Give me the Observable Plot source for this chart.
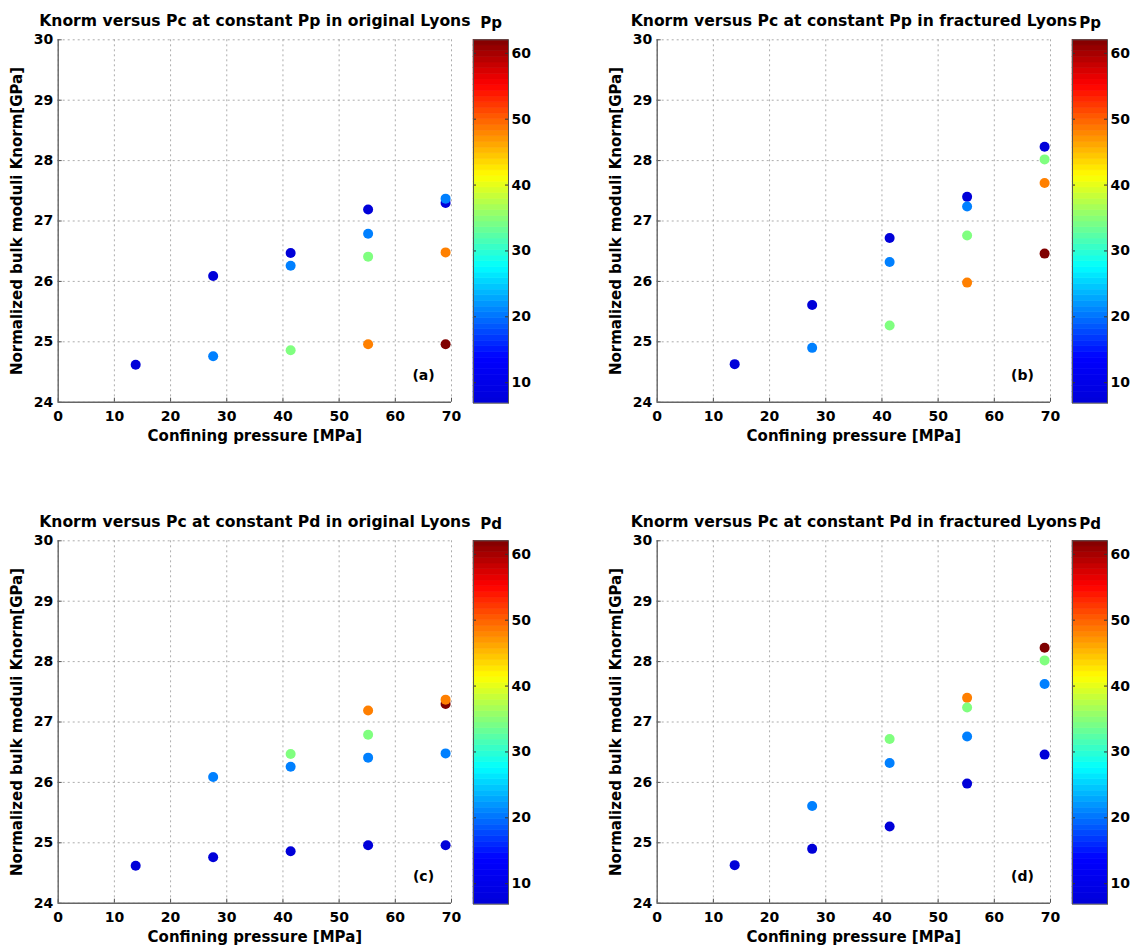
<!DOCTYPE html>
<html>
<head>
<meta charset="utf-8">
<script src="https://cdn.jsdelivr.net/npm/d3@7"></script>
<script src="https://cdn.jsdelivr.net/npm/@observablehq/plot@0.6"></script>
<style>
  body { margin: 0; background: #fff; overflow: hidden; }
  #fig { position: relative; width: 1134px; height: 948px; overflow: hidden; }
  #fig > div { position: absolute; }
  #fig svg { max-width: none; }
</style>
</head>
<body>
<div id="fig"></div>
<script>
// Confining pressure steps (MPa)
const pc = [13.79, 27.58, 41.37, 55.16, 68.95];
// Pore pressure levels (MPa)
const pp = [6.89, 20.68, 34.47, 48.26, 62.05];
// Knorm (GPa): one row per pore pressure level, one column per confining pressure (null = not measured)
const kOriginal = [
  [24.62, 26.09, 26.47, 27.19, 27.30],
  [null,  24.76, 26.26, 26.79, 27.37],
  [null,  null,  24.86, 26.41, null ],
  [null,  null,  null,  24.96, 26.48],
  [null,  null,  null,  null,  24.96]
];
const kFractured = [
  [24.63, 25.61, 26.72, 27.40, 28.23],
  [null,  24.90, 26.32, 27.24, null ],
  [null,  null,  25.27, 26.76, 28.02],
  [null,  null,  null,  25.98, 27.63],
  [null,  null,  null,  null,  26.46]
];
// Axis and colour bar ticks
const xTicks = [0, 10, 20, 30, 40, 50, 60, 70];
const yTicks = [24, 25, 26, 27, 28, 29, 30];
const cTicks = [10, 20, 30, 40, 50, 60];
const xDomain = [0, 70];
const yDomain = [24, 30];
const cDomain = [6.89, 62.05];

// Flatten a Knorm table into records; differential pressure Pd = Pc - Pp
function records(table) {
  const out = [];
  table.forEach((row, i) => row.forEach((k, j) => {
    if (k != null) out.push({pc: pc[j], pp: pp[i], pd: +(pc[j] - pp[i]).toFixed(2), k});
  }));
  return out;
}
const original = records(kOriginal);
const fractured = records(kFractured);

// MATLAB-style jet colour map
function jet(t) {
  const c = v => Math.max(0, Math.min(1, v));
  const r = c(Math.min(4 * t - 1.5, -4 * t + 4.5));
  const g = c(Math.min(4 * t - 0.5, -4 * t + 3.5));
  const b = t < 0.125 ? 0.85 + 0.15 * t / 0.125 : c(-4 * t + 2.5);
  return `rgb(${Math.round(r * 255)},${Math.round(g * 255)},${Math.round(b * 255)})`;
}

const FONT = "font-family:'DejaVu Sans',sans-serif;font-weight:bold;font-size:14px;background:transparent;overflow:visible;max-width:none;";
const W = 530, H = 450, ML = 57.7, MT = 39.3, PW = 393.3, PH = 362.4;
const intFmt = d3.format("d");

const panels = [
  {left: 0,   top: 0,   rows: original,  key: "pp", label: "Pp", letter: "(a)",
   title: "Knorm versus Pc at constant Pp in original Lyons"},
  {left: 599, top: 0,   rows: fractured, key: "pp", label: "Pp", letter: "(b)",
   title: "Knorm versus Pc at constant Pp in fractured Lyons"},
  {left: 0,   top: 501, rows: original,  key: "pd", label: "Pd", letter: "(c)",
   title: "Knorm versus Pc at constant Pd in original Lyons"},
  {left: 599, top: 501, rows: fractured, key: "pd", label: "Pd", letter: "(d)",
   title: "Knorm versus Pc at constant Pd in fractured Lyons"}
];

const fig = document.getElementById("fig");
const colorScale = {type: "linear", domain: cDomain, interpolate: jet};

for (const p of panels) {
  const chart = Plot.plot({
    width: W, height: H,
    marginLeft: ML, marginTop: MT, marginRight: W - ML - PW, marginBottom: H - MT - PH,
    style: FONT,
    x: {domain: xDomain},
    y: {domain: yDomain},
    color: colorScale,
    marks: [
      Plot.gridX(xTicks, {stroke: "#999", strokeOpacity: 0.8, strokeDasharray: "2,3"}),
      Plot.gridY(yTicks, {stroke: "#999", strokeOpacity: 0.8, strokeDasharray: "2,3"}),
      Plot.tickX(xTicks, {x: d => d, insetTop: PH - 4, stroke: "#555"}),
      Plot.tickY(yTicks, {y: d => d, insetRight: PW - 4, stroke: "#555"}),
      Plot.ruleX([xDomain[0]], {stroke: "#666", strokeWidth: 1.4}),
      Plot.ruleY([yDomain[0]], {stroke: "#666", strokeWidth: 1.4}),
      Plot.axisX(xTicks, {tickSize: 0, tickPadding: 9, label: null, tickFormat: intFmt}),
      Plot.axisY(yTicks, {tickSize: 0, tickPadding: 5, label: null, tickFormat: intFmt}),
      Plot.dot(p.rows, {x: "pc", y: "k", fill: p.key, r: 5}),
      Plot.text([p.title], {text: d => d, frameAnchor: "top", dy: -19.3, fontSize: 15.6, lineAnchor: "middle", textAnchor: "middle"}),
      Plot.text(["Confining pressure [MPa]"], {text: d => d, frameAnchor: "bottom", dy: 34, fontSize: 15, lineAnchor: "middle", textAnchor: "middle"}),
      Plot.text(["Normalized bulk moduli Knorm[GPa]"], {text: d => d, frameAnchor: "left", dx: -41, rotate: -90, fontSize: 15, lineAnchor: "middle", textAnchor: "middle"}),
      Plot.text([p.letter], {text: d => d, frameAnchor: "bottom-right", dx: -28, dy: -27, fontSize: 14, lineAnchor: "middle", textAnchor: "middle"})
    ]
  });
  const box = document.createElement("div");
  box.style.left = p.left + "px";
  box.style.top = p.top + "px";
  box.appendChild(chart);
  fig.appendChild(box);

  // Colour bar: 64 jet levels spanning the colour domain
  const steps = d3.range(64).map(i => {
    const lo = cDomain[0] + i * (cDomain[1] - cDomain[0]) / 64;
    const hi = cDomain[0] + (i + 1) * (cDomain[1] - cDomain[0]) / 64;
    return {lo, hi, mid: (lo + hi) / 2};
  });
  const CBW = 35, CBH = 363.4;
  const bar = Plot.plot({
    width: 60, height: H,
    marginLeft: 0, marginRight: 60 - CBW, marginTop: MT, marginBottom: H - MT - CBH,
    style: FONT,
    x: {domain: [0, 1], axis: null},
    y: {domain: cDomain, axis: null},
    color: colorScale,
    marks: [
      Plot.rect(steps, {y1: "lo", y2: "hi", fill: "mid", stroke: "mid", strokeWidth: 0.6}),
      Plot.tickY(cTicks, {y: d => d, insetRight: CBW - 3, stroke: "#333"}),
      Plot.tickY(cTicks, {y: d => d, insetLeft: CBW - 3, stroke: "#333"}),
      Plot.frame({stroke: "#555"}),
      Plot.axisY(cTicks, {anchor: "right", tickSize: 0, tickPadding: 3, label: null, tickFormat: intFmt}),
      Plot.text([p.label], {text: d => d, frameAnchor: "top", dy: -17, fontSize: 15, lineAnchor: "middle", textAnchor: "middle"})
    ]
  });
  const cb = document.createElement("div");
  cb.style.left = (p.left + 473) + "px";
  cb.style.top = p.top + "px";
  cb.appendChild(bar);
  fig.appendChild(cb);
}
</script>
</body>
</html>
